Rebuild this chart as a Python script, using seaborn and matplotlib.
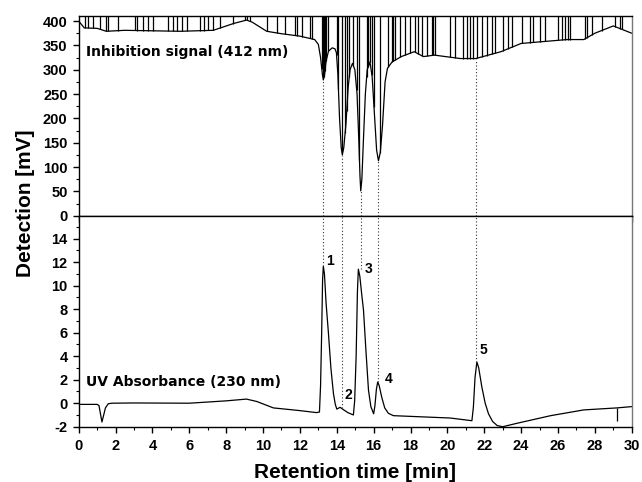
import numpy as np
import pandas as pd
import matplotlib
matplotlib.use("Agg")
import matplotlib.pyplot as plt
from matplotlib.ticker import MultipleLocator
import seaborn as sns

# ---- data ----
t_sig = [0, 0.3, 1.0, 1.5, 2.5, 4, 5.5, 7.3, 8.4, 9.1, 9.4, 10.2, 11.0, 12.0, 12.8,
         13.0, 13.12, 13.22, 13.27, 13.33, 13.42, 13.55, 13.75, 13.9, 13.98, 14.06, 14.15,
         14.24, 14.3, 14.38, 14.5, 14.62, 14.72, 14.85, 14.98, 15.1, 15.2, 15.26,
         15.3, 15.36, 15.45, 15.55, 15.65, 15.8, 15.92, 16.04, 16.16, 16.26, 16.36, 16.48,
         16.62, 16.75, 17.0, 17.5, 18.2, 18.7, 19.3, 20.7, 21.54, 22.9, 24.0, 26.5, 27.4,
         28.0, 29.0, 30]
sig = [400, 386, 385, 379, 381, 380, 379, 381, 395, 402, 398, 379, 374, 369, 362,
       352, 325, 290, 279, 288, 318, 338, 345, 343, 335, 290, 200,
       140, 125, 140, 190, 265, 300, 313, 300, 250, 150, 80,
       51, 75, 160, 250, 300, 316, 285, 210, 135, 113, 130, 185,
       275, 303, 316, 327, 337, 327, 330, 323, 323, 337, 354, 362, 362,
       375, 390, 375]

spikes = [0.34, 0.52, 0.76, 1.16, 1.48, 1.57, 2.15, 3.06, 3.14, 3.51, 3.78, 4.05, 4.86,
          5.13, 5.32, 5.59, 5.86, 6.58, 6.80, 7.03, 7.31, 7.67, 8.39, 9.02, 9.15, 9.30,
          10.2, 10.74, 11.2, 11.73, 11.82, 12.1, 12.55, 12.64, 13.19, 13.24, 13.31, 13.36,
          13.42, 13.55, 13.99, 14.09, 14.27, 14.45, 14.54, 14.68, 14.90, 15.08, 15.23,
          15.62, 15.71, 15.80, 15.90, 16.02, 16.35, 16.80, 16.98, 17.07, 17.16, 17.43,
          17.70, 17.98, 18.25, 18.43, 18.61, 18.88, 19.15, 19.24, 19.33, 20.15, 20.42,
          20.87, 21.05, 21.23, 21.41, 21.59, 21.87, 22.14, 22.41, 22.59, 23.04, 23.31,
          23.49, 24.03, 24.49, 24.67, 25.03, 25.30, 26.02, 26.21, 26.39, 26.57, 26.66,
          27.47, 27.56, 27.83, 28.37, 29.10, 29.37, 29.46]

t_uv = [0, 1.0, 1.1, 1.18, 1.26, 1.34, 1.45, 1.6, 1.8, 3, 6, 8.0, 9.1, 9.65, 10.56,
        12.0, 12.9, 13.06, 13.12, 13.18, 13.23, 13.27, 13.33, 13.42, 13.55, 13.68, 13.82,
        13.92, 14.0, 14.18, 14.36, 14.6, 14.9, 14.97, 15.05, 15.12, 15.17, 15.25, 15.35,
        15.45, 15.58, 15.72, 15.85, 16.0, 16.07, 16.15, 16.22, 16.3, 16.44, 16.6, 16.8,
        17.07, 18.3, 20.15, 21.33, 21.41, 21.5, 21.6, 21.7, 21.87, 22.05, 22.23, 22.45,
        22.7, 23.0, 23.8, 25.6, 27.4, 29.2, 30]
uv = [-0.1, -0.1, -0.2, -0.9, -1.6, -1.1, -0.4, -0.05, 0.0, 0.02, 0.0, 0.2, 0.35, 0.15, -0.4,
      -0.63, -0.8, -0.75, 1.5, 6.0, 10.5, 11.65, 11.0, 8.5, 5.9, 3.0, 0.8,
      -0.1, -0.5, -0.35, -0.55, -0.8, -1.0, 0.2, 4.0, 9.5, 11.4, 10.8, 9.3,
      7.9, 4.5, 1.1, -0.3, -0.9, -0.2, 1.2, 1.8, 1.5, 0.5, -0.4, -0.86,
      -1.06, -1.14, -1.26, -1.49, -0.34, 2.2, 3.5, 3.0, 1.37, 0.0, -0.9, -1.55,
      -1.9, -2.0, -1.7, -1.06, -0.57, -0.4, -0.29]

peak_labels = ["1", "2", "3", "4", "5"]
peak_t = [13.27, 14.29, 15.30, 16.26, 21.54]
peak_min_sig = [279, 125, 51, 113, 323]
peak_uv = [11.65, -0.4, 11.4, 1.8, 3.5]
label_xy = [(13.64, 12.1), (14.65, 0.7), (15.75, 11.4), (16.8, 2.1), (21.96, 4.5)]

# ---- style ----
sns.set_theme(style="ticks")
plt.rcParams["font.family"] = ["Liberation Sans", "DejaVu Sans"]
plt.rcParams["font.weight"] = "bold"
plt.rcParams["axes.linewidth"] = 1.0
plt.rcParams["axes.unicode_minus"] = False
for k in ["text.color", "axes.labelcolor", "xtick.color", "ytick.color", "axes.edgecolor"]:
    plt.rcParams[k] = "black"

fig = plt.figure(figsize=(6.42, 4.82), dpi=100)
ax1 = fig.add_axes([0.1226, 0.5525, 0.8614, 0.4149])
ax2 = fig.add_axes([0.1226, 0.1147, 0.8614, 0.4378])

df_sig = pd.DataFrame({"t": t_sig, "v": sig})
df_uv = pd.DataFrame({"t": t_uv, "v": uv})

top = 411
sns.lineplot(data=df_sig, x="t", y="v", ax=ax1, color="black", lw=0.9,
             estimator=None, sort=False)
ax1.vlines(spikes, np.interp(spikes, t_sig, sig), top, color="black", lw=0.9)
ax1.vlines(peak_t, 0, peak_min_sig, color="#333333", lw=0.8, linestyles=(0, (1, 2)))
ax1.text(0.4, 336, "Inhibition signal (412 nm)", fontsize=10, fontweight="bold",
         family="DejaVu Sans", va="center", ha="left")

sns.lineplot(data=df_uv, x="t", y="v", ax=ax2, color="black", lw=0.9,
             estimator=None, sort=False)
ax2.vlines([29.2], -1.5, -0.4, color="black", lw=0.9)
ax2.vlines(peak_t, peak_uv, 15.95, color="#333333", lw=0.8, linestyles=(0, (1, 2)))
for lab, (x, y) in zip(peak_labels, label_xy):
    ax2.text(x, y, lab, fontsize=10, fontweight="bold", ha="center", va="center")
ax2.text(0.4, 1.8, "UV Absorbance (230 nm)", fontsize=10, fontweight="bold",
         family="DejaVu Sans", va="center", ha="left")

for ax in (ax1, ax2):
    ax.set_xlim(0, 30)
    ax.xaxis.set_major_locator(MultipleLocator(2))
    ax.xaxis.set_minor_locator(MultipleLocator(1))
    ax.tick_params(which="major", direction="out", length=4, width=1, labelsize=10.5,
                   pad=4)
    ax.tick_params(which="minor", direction="out", length=2.5, width=0.8)
    for s in ax.spines.values():
        s.set_visible(True)
        s.set_color("black")
    ax.spines["right"].set_color("#777777")
    ax.set_xlabel("")
    ax.set_ylabel("")

ax1.set_ylim(0, top)
ax1.yaxis.set_major_locator(MultipleLocator(50))
ax1.yaxis.set_minor_locator(MultipleLocator(25))
ax1.tick_params(labelbottom=False)

ax2.set_ylim(-2, 15.95)
ax2.yaxis.set_major_locator(MultipleLocator(2))
ax2.yaxis.set_minor_locator(MultipleLocator(1))
ax2.tick_params(axis="x", pad=5)

for ax in (ax1, ax2):
    for lbl in ax.get_xticklabels() + ax.get_yticklabels():
        lbl.set_fontweight("bold")

ax2.set_xlabel("Retention time [min]", fontsize=15, fontweight="bold", labelpad=7)
fig.text(0.04, 0.579, "Detection [mV]", rotation=90, fontsize=15, fontweight="bold",
         ha="center", va="center")

fig.savefig("out.png", dpi=100)
